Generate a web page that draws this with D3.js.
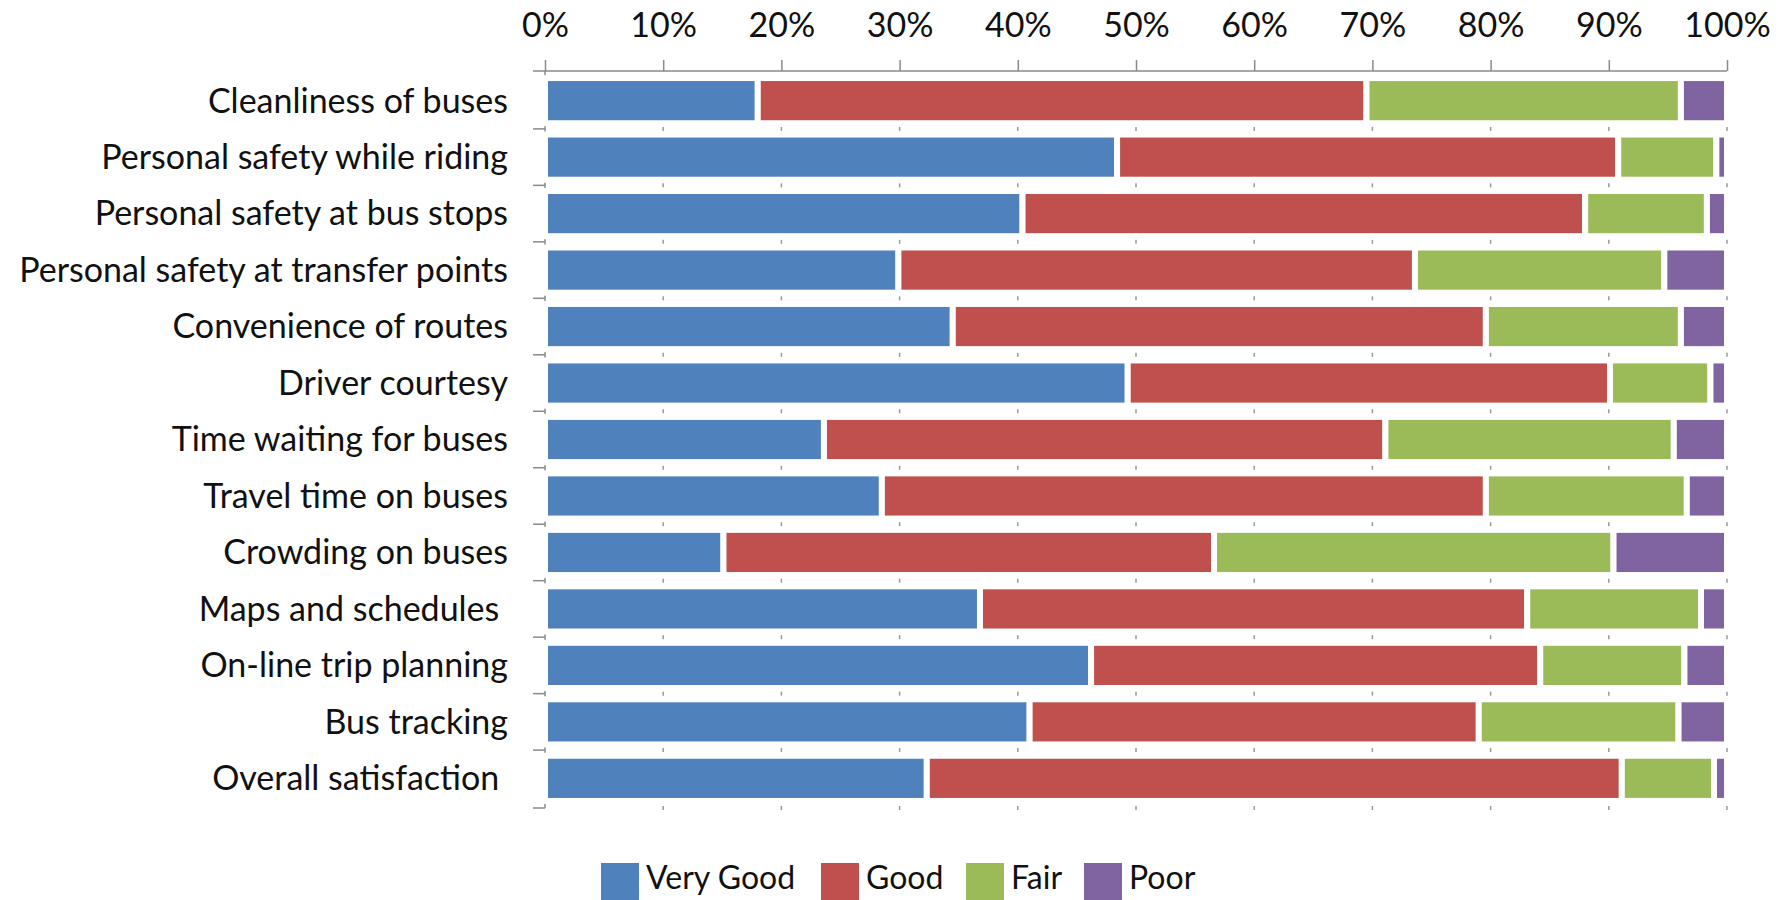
<!DOCTYPE html>
<html lang="en">
<head>
<meta charset="utf-8">
<script src="https://d3js.org/d3.v7.min.js"></script>
<style>
  body { margin: 0; background: #fff; }
  text { font-family: Lato, "Open Sans", sans-serif; fill: #111; }
</style>
</head>
<body>
<div id="chart"></div>
<script>
// survey questions, top to bottom
var categories = [
  "Cleanliness of buses",
  "Personal safety while riding",
  "Personal safety at bus stops",
  "Personal safety at transfer points",
  "Convenience of routes",
  "Driver courtesy",
  "Time waiting for buses",
  "Travel time on buses",
  "Crowding on buses",
  "Maps and schedules ",
  "On-line trip planning",
  "Bus tracking",
  "Overall satisfaction "
];
var seriesNames = ["Very Good", "Good", "Fair", "Poor"];
var veryGood = [18.0, 48.4, 40.4, 29.9, 34.5, 49.3, 23.6, 28.5, 15.1, 36.8, 46.2, 41.0, 32.3];
var good     = [51.5, 42.4, 47.6, 43.7, 45.1, 40.8, 47.5, 51.1, 41.5, 46.3, 38.0, 38.0, 58.8];
var fair     = [26.6,  8.3, 10.3, 21.1, 16.5,  8.5, 24.4, 17.0, 33.8, 14.7, 12.2, 16.9,  7.8];
var poor     = [ 3.9,  0.9,  1.7,  5.3,  3.9,  1.4,  4.5,  3.4,  9.6,  2.2,  3.6,  4.1,  1.1];
var tickValues = [0, 0.1, 0.2, 0.3, 0.4, 0.5, 0.6, 0.7, 0.8, 0.9, 1];
var colors = ["#4F81BD", "#C0504D", "#9BBB59", "#8064A2"];

var width = 1787, height = 900;
var svg = d3.select("#chart").append("svg")
    .attr("width", width).attr("height", height);

// rows as objects so d3.stack can normalise them
var rows = categories.map(function (c, i) {
  var r = { cat: c }, tot = veryGood[i] + good[i] + fair[i] + poor[i];
  r["Very Good"] = veryGood[i] / tot;
  r["Good"] = good[i] / tot;
  r["Fair"] = fair[i] / tot;
  r["Poor"] = poor[i] / tot;
  return r;
});
var stacked = d3.stack().keys(seriesNames)(rows);

var x = d3.scaleLinear().domain([0, 1]).range([545, 1727]);
var y = d3.scaleBand().domain(categories).range([71, 808])
    .paddingInner(0.2).paddingOuter(0.125);
var axisColor = "#8a8a8a";

// top percentage axis
var xAxis = d3.axisTop(x).tickValues(tickValues)
    .tickFormat(d3.format(".0%")).tickSize(11).tickPadding(23);
var gx = svg.append("g").attr("transform", "translate(0," + y.range()[0] + ")").call(xAxis);
gx.select(".domain").remove();
gx.selectAll(".tick line").attr("stroke", axisColor).attr("stroke-width", 1.5);
gx.selectAll(".tick text").style("font-size", "34px").style("font-family", "Lato, sans-serif")
    .attr("fill", "#111");
svg.append("line")
    .attr("x1", x(0) - 12).attr("x2", x(1))
    .attr("y1", y.range()[0]).attr("y2", y.range()[0])
    .attr("stroke", axisColor).attr("stroke-width", 1.5);

// left category axis with ticks between rows
var step = y.step();
var top0 = y.range()[0];
var bounds = d3.range(categories.length).map(function (i) {
  return i === categories.length - 1 ? y.range()[1] : y(categories[i]) + y.bandwidth() + step * 0.1;
});
svg.append("line")
    .attr("x1", x(0)).attr("x2", x(0))
    .attr("y1", top0).attr("y2", y.range()[1])
    .attr("stroke", axisColor).attr("stroke-width", 1.5);
svg.selectAll(".ctick").data(bounds).enter().append("line")
    .attr("x1", x(0) - 12).attr("x2", x(0))
    .attr("y1", function (d) { return d; }).attr("y2", function (d) { return d; })
    .attr("stroke", axisColor).attr("stroke-width", 1.5);

// little marks at each 10% on the row boundaries
bounds.forEach(function (b) {
  svg.selectAll(null).data(tickValues.slice(1)).enter().append("line")
      .attr("x1", function (d) { return x(d); }).attr("x2", function (d) { return x(d); })
      .attr("y1", b - 2).attr("y2", b + 2)
      .attr("stroke", "#999").attr("stroke-width", 1.5);
});

svg.selectAll(".clabel").data(categories).enter().append("text")
    .attr("x", 508)
    .attr("y", function (d) { return y(d) + y.bandwidth() / 2; })
    .attr("dy", "0.35em")
    .attr("text-anchor", "end")
    .style("font-size", "34px")
    .style("white-space", "pre")
    .text(function (d) { return d; });

// bars
svg.selectAll(".series").data(stacked).enter().append("g")
    .attr("fill", function (d, i) { return colors[i]; })
  .selectAll("rect").data(function (d) { return d; }).enter().append("rect")
    .attr("x", function (d) { return x(d[0]); })
    .attr("y", function (d) { return y(d.data.cat); })
    .attr("width", function (d) { return x(d[1]) - x(d[0]); })
    .attr("height", y.bandwidth())
    .attr("stroke", "#fff")
    .attr("stroke-width", 6);

// legend
var legendX = [601, 821, 966, 1084];
var lg = svg.selectAll(".legend").data(seriesNames).enter().append("g")
    .attr("transform", function (d, i) { return "translate(" + legendX[i] + ",863)"; });
lg.append("rect").attr("width", 38).attr("height", 37)
    .attr("fill", function (d, i) { return colors[i]; });
lg.append("text").attr("x", 45).attr("y", 15).attr("dy", "0.35em")
    .style("font-size", "32px")
    .text(function (d) { return d; });
</script>
</body>
</html>
